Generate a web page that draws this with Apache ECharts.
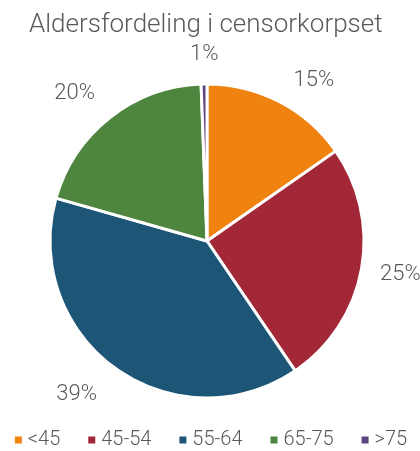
<!DOCTYPE html>
<html>
<head>
<meta charset="utf-8">
<script src="https://cdn.jsdelivr.net/npm/echarts@6/dist/echarts.min.js"></script>
<style>
  html, body { margin: 0; padding: 0; background: #fff; }
  #chart { width: 420px; height: 451px; }
</style>
</head>
<body>
<div id="chart"></div>
<script>
// aldersgrupper og andeler (prosent)
const categories = ['<45', '45-54', '55-64', '65-75', '>75'];
const shares = [15.3, 25.2, 38.9, 20.0, 0.6];
const shareLabels = ['15%', '25%', '39%', '20%', '1%'];
const colors = ['#F0830F', '#A22838', '#1D5577', '#4E863F', '#5D4580'];

// små justeringer av etikettplassering (px)
const labelShift = [[-3, 2], [-12, 0], [2, 5], [6, -4], [20, -4]];

const chart = echarts.init(document.getElementById('chart'), null, { renderer: 'canvas' });

const option = {
  animation: false,
  color: colors,
  title: {
    text: 'Aldersfordeling i censorkorpset',
    left: 24,
    top: 7,
    textStyle: {
      fontFamily: 'Roboto',
      fontWeight: 300,
      fontSize: 26,
      color: '#595959'
    }
  },
  legend: {
    top: 425,
    left: 'center',
    icon: 'rect',
    itemWidth: 9,
    itemHeight: 9,
    itemGap: 26,
    textStyle: {
      fontFamily: 'Roboto',
      fontWeight: 300,
      fontSize: 20,
      color: '#595959'
    },
    data: categories
  },
  series: [{
    type: 'pie',
    center: [207, 241],
    radius: [0, 157],
    startAngle: 90,
    clockwise: true,
    itemStyle: {
      borderColor: '#fff',
      borderWidth: 3
    },
    label: {
      show: true,
      position: 'outside',
      overflow: 'none',
      formatter: p => shareLabels[p.dataIndex],
      fontFamily: 'Roboto',
      fontWeight: 300,
      fontSize: 22,
      color: '#595959'
    },
    labelLine: {
      show: false,
      length: 26,
      length2: 0
    },
    labelLayout: p => ({ dx: labelShift[p.dataIndex][0], dy: labelShift[p.dataIndex][1] }),
    data: categories.map((c, i) => ({ name: c, value: shares[i] }))
  }]
};

chart.setOption(option);
</script>
</body>
</html>
